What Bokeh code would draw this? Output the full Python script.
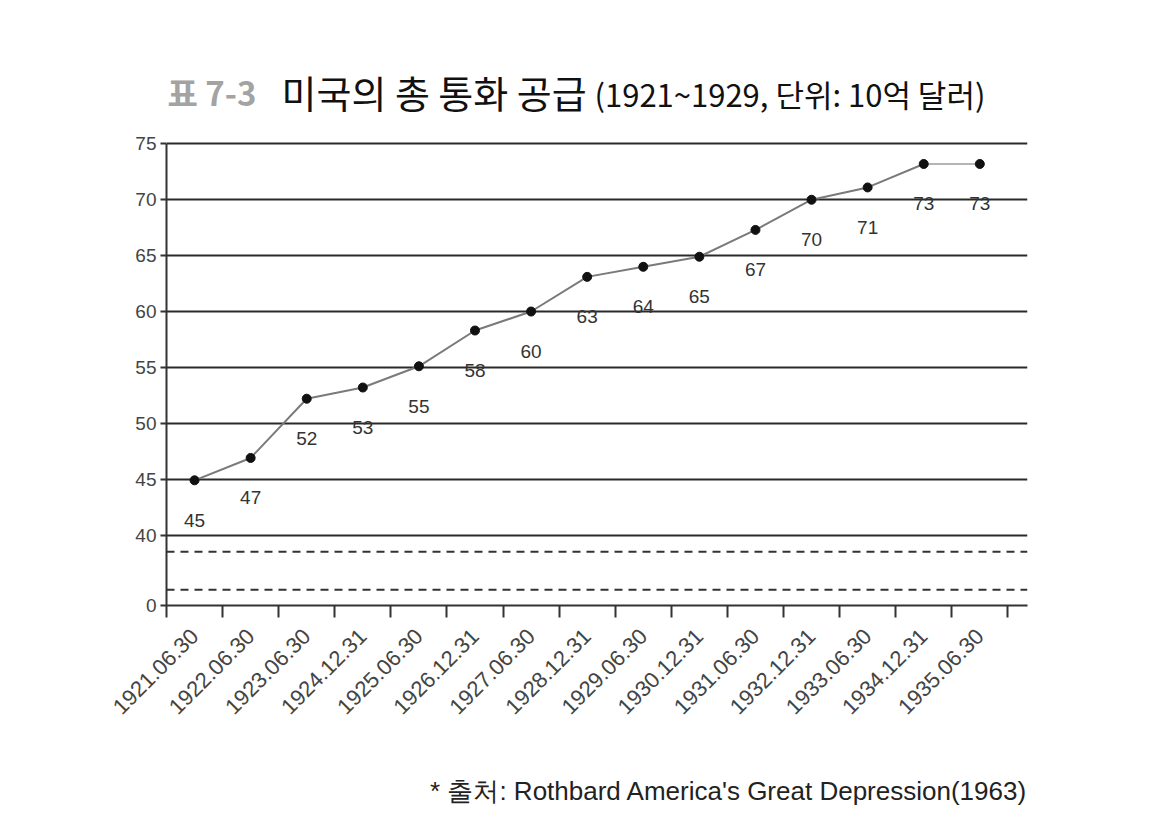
import math
from bokeh.plotting import figure
from bokeh.models import (Range1d, FixedTicker, CustomJSTickFormatter, Span, Title,
                          ColumnDataSource)
from bokeh.core.properties import value
from bokeh.embed import file_html
from bokeh.resources import INLINE

# ---- data ----
categories = ["1921.06.30", "1922.06.30", "1923.06.30", "1924.12.31", "1925.06.30",
              "1926.12.31", "1927.06.30", "1928.12.31", "1929.06.30", "1930.12.31",
              "1931.06.30", "1932.12.31", "1933.06.30", "1934.12.31", "1935.06.30"]
values = [44.9, 46.9, 52.2, 53.2, 55.1, 58.3, 60.0, 63.1, 64.0, 64.9,
          67.3, 70.0, 71.1, 73.2, 73.2]
y_ticks = [40, 45, 50, 55, 60, 65, 70, 75]

title_prefix = "표 7-3"
title_main = "미국의 총 통화 공급"
title_sub = "(1921~1929, 단위: 10억 달러)"
source_text = "* 출처: Rothbard America's Great Depression(1963)"

# ---- layout ----
W, H = 1164, 840
LEFT, TOP, FW, FH = 166, 60, 861, 545
X0, X1 = -0.5, 14.85
Y0 = 33.7
PX_PER_Y = 11.178
Y1 = Y0 + FH / PX_PER_Y
ZERO_POS = 33.7  # broken axis: where "0" is drawn

def px_x(px):
    return X0 + (px - LEFT) / FW * (X1 - X0)

def px_y(py):
    return Y1 - (py - TOP) / FH * (Y1 - Y0)

p = figure(frame_width=FW, frame_height=FH,
           min_border_left=LEFT, min_border_top=TOP,
           min_border_right=W - LEFT - FW, min_border_bottom=H - TOP - FH,
           x_range=Range1d(X0, X1), y_range=Range1d(Y0, Y1),
           output_backend="svg", toolbar_location=None)
p.outline_line_color = None
p.background_fill_color = "white"
p.border_fill_color = "white"
p.xgrid.visible = False

AX_COL = "#333333"
FONT = "Liberation Sans"

# y grid
p.ygrid.ticker = FixedTicker(ticks=y_ticks)
p.ygrid.grid_line_color = "#2a2a2a"
p.ygrid.grid_line_width = 2

# y axis
yax = p.yaxis[0]
yax.ticker = FixedTicker(ticks=[ZERO_POS] + y_ticks)
yax.formatter = CustomJSTickFormatter(code="""
    return tick < 39 ? "0" : tick.toFixed(0);
""")
yax.bounds = (ZERO_POS, 75)
yax.axis_line_color = AX_COL
yax.axis_line_width = 2
yax.major_tick_line_color = AX_COL
yax.major_tick_line_width = 2
yax.major_tick_out = 6
yax.major_tick_in = 0
yax.minor_tick_line_color = None
yax.major_label_text_font = FONT
yax.major_label_text_font_size = "19px"
yax.major_label_text_color = "#444444"
yax.major_label_standoff = 4

# x axis
xs = list(range(len(categories)))
xax = p.xaxis[0]
xax.ticker = FixedTicker(ticks=xs, minor_ticks=[i - 0.5 for i in range(len(categories) + 1)])
xax.formatter = CustomJSTickFormatter(args=dict(cats=categories), code="""
    const i = Math.round(tick);
    if (Math.abs(tick - i) < 1e-6 && i >= 0 && i < cats.length) { return cats[i]; }
    return "";
""")
xax.axis_line_color = AX_COL
xax.axis_line_width = 2
xax.major_tick_out = 0
xax.major_tick_in = 0
xax.major_tick_line_color = None
xax.minor_tick_line_color = AX_COL
xax.minor_tick_line_width = 2
xax.minor_tick_out = 12
xax.minor_tick_in = 0
xax.major_label_orientation = math.pi / 4
xax.major_label_text_font = FONT
xax.major_label_text_font_size = "22px"
xax.major_label_text_color = "#444444"
xax.major_label_standoff = 15

# broken-axis dashed lines
for yy in (38.5, 35.1):
    p.add_layout(Span(location=yy, dimension="width", line_color="#333333",
                      line_width=2, line_dash="8 6"))

# data line
src = ColumnDataSource(dict(x=xs, y=values,
                            lab=[str(int(round(v))) for v in values]))
p.line(xs[:-1], values[:-1], line_color="#7a7a7a", line_width=2)
p.line(xs[-2:], values[-2:], line_color="#b5b5b5", line_width=2)
p.scatter("x", "y", source=src, size=9, fill_color="#111111", line_color="#111111")
p.text("x", "y", text="lab", source=src, y_offset=40, text_align="center",
       text_baseline="middle", text_font=value(FONT), text_font_size=value("19px"),
       text_color="#333333")

# title (inside the upper, empty part of the frame)
p.text([px_x(167)], [px_y(91)], text=[title_prefix], text_align="left",
       text_baseline="middle", text_font=value("Noto Sans CJK KR"),
       text_font_style="bold", text_font_size=value("33px"), text_color="#a3a3a3")
p.text([px_x(281)], [px_y(91)], text=[title_main], text_align="left",
       text_baseline="middle", text_font=value("Noto Sans CJK KR"),
       text_font_size=value("38px"), text_color="#111111")
p.text([px_x(594)], [px_y(93)], text=[title_sub], text_align="left",
       text_baseline="middle", text_font=value("Noto Sans CJK KR"),
       text_font_size=value("31px"), text_color="#111111")

# source note
p.add_layout(Title(text=source_text, align="right", text_font=FONT,
                   text_font_size="26px", text_font_style="normal",
                   text_color="#222222", standoff=100), "below")

open("out.html", "w").write(file_html(p, INLINE))
